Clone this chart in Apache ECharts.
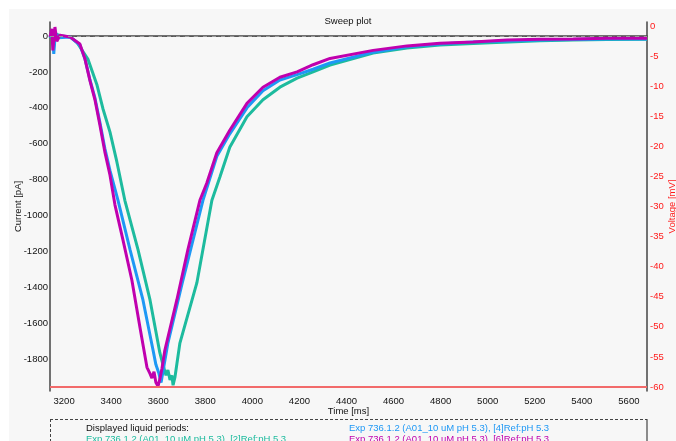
<!DOCTYPE html>
<html lang="en">

<head>
    <meta charset="UTF-8">
    <title>Sweep plot</title>
    <script src="https://cdn.jsdelivr.net/npm/echarts@6.0.0/dist/echarts.min.js"></script>
    <style>
        body { margin: 0; background: #fff; }
        #wrap { position: relative; width: 676px; height: 441px; overflow: hidden; }
        #panel { position: absolute; left: 9px; top: 9px; width: 667px; height: 432px; background: #f7f7f7; }
        #main { position: absolute; left: 0; top: 0; width: 676px; height: 441px; }
    </style>
</head>

<body>
    <div id="wrap">
        <div id="panel"></div>
        <div id="main"></div>
    </div>
    <script>
        // time range of the sweep [ms]
        var timeRange = [3140, 5677]
        // current axis range [pA] and voltage axis range [mV]
        var currentRange = [-1977, 78]
        var voltageRange = [-60, 0]

        var seriesNames = [
            'Exp 736.1.2 (A01_10 uM pH 5.3), [2]Ref:pH 5.3',
            'Exp 736.1.2 (A01_10 uM pH 5.3), [4]Ref:pH 5.3',
            'Exp 736.1.2 (A01_10 uM pH 5.3), [6]Ref:pH 5.3'
        ]
        var seriesColors = ['#1dbb9e', '#1e98f5', '#c000ae']

        // [time ms, current pA]
        var sweep2 = [
            [3140, -5], [3148, 20], [3155, -60], [3165, 10], [3190, 0], [3225, -5], [3254, -35],
            [3301, -128], [3339, -270], [3365, -405], [3395, -535], [3424, -700], [3458, -915],
            [3514, -1190], [3565, -1470], [3607, -1765], [3620, -1830], [3633, -1890], [3641, -1860],
            [3650, -1915], [3658, -1890], [3663, -1945], [3671, -1900], [3692, -1710], [3764, -1375],
            [3828, -915], [3862, -785], [3904, -620], [3977, -450], [4045, -355], [4117, -285],
            [4190, -235], [4258, -200], [4330, -162], [4513, -95], [4657, -67], [4797, -50],
            [5010, -38], [5222, -27], [5363, -22], [5507, -20], [5677, -18]
        ]
        var sweep4 = [
            [3140, -10], [3150, 30], [3156, -100], [3163, 20], [3175, -10], [3225, -5], [3267, -50],
            [3288, -125], [3310, -245], [3331, -345], [3352, -480], [3373, -625], [3395, -750],
            [3429, -915], [3480, -1190], [3535, -1470], [3578, -1750], [3590, -1830], [3603, -1880],
            [3612, -1930], [3620, -1870], [3641, -1710], [3701, -1380], [3790, -915], [3849, -670],
            [3904, -545], [3977, -400], [4045, -305], [4117, -245], [4190, -215], [4258, -185],
            [4330, -150], [4513, -90], [4657, -60], [4797, -45], [4938, -33], [5082, -28],
            [5222, -22], [5363, -20], [5507, -17], [5677, -17]
        ]
        var sweep6 = [
            [3140, -5], [3148, 40], [3152, -80], [3161, 50], [3169, -30], [3182, 5], [3225, -5],
            [3267, -45], [3288, -125], [3310, -250], [3331, -355], [3352, -495], [3373, -645],
            [3395, -775], [3416, -940], [3450, -1135], [3488, -1360], [3522, -1620], [3552, -1845],
            [3565, -1880], [3573, -1905], [3582, -1870], [3590, -1930], [3599, -1950], [3607, -1910],
            [3616, -1850], [3628, -1750], [3679, -1470], [3726, -1190], [3777, -915], [3806, -820],
            [3849, -650], [3904, -525], [3977, -375], [4045, -285], [4117, -230], [4190, -200],
            [4258, -160], [4330, -125], [4513, -80], [4657, -55], [4797, -40], [4938, -33],
            [5082, -22], [5222, -18], [5363, -17], [5507, -12], [5677, -12]
        ]
        // holding voltage
        var voltTime = [3140, 5677]
        var voltage = [-60, -60]

        var font = 'Liberation Sans, Arial, sans-serif'
        var mCharts = echarts.init(document.getElementById('main'), null, { renderer: 'canvas' })

        var sweeps = [sweep2, sweep4, sweep6]
        var series = [{
            type: 'line',
            xAxisIndex: 0,
            yAxisIndex: 0,
            data: [],
            silent: true,
            markLine: {
                silent: true,
                symbol: 'none',
                label: { show: false },
                lineStyle: { color: '#9a9a9a', type: [4, 5], width: 1 },
                data: [{ yAxis: 0 }]
            }
        }]
        sweeps.forEach(function(d, i) {
            series.push({
                name: seriesNames[i],
                type: 'line',
                xAxisIndex: 0,
                yAxisIndex: 0,
                data: d,
                showSymbol: false,
                animation: false,
                lineStyle: { color: seriesColors[i], width: 3 },
                itemStyle: { color: seriesColors[i] }
            })
        })
        series.push({
            name: 'Voltage',
            type: 'line',
            xAxisIndex: 2,
            yAxisIndex: 2,
            data: voltTime.map(function(t, i) { return [t, voltage[i]] }),
            showSymbol: false,
            animation: false,
            lineStyle: { color: '#f26a6a', width: 2 }
        })

        function every200(v) {
            return Math.round(v) % 200 === 0 ? String(Math.round(v)) : ''
        }

        // legend box under the plot
        var legendItems = [
            { type: 'line', shape: { x1: 50, y1: 419.5, x2: 647, y2: 419.5 }, style: { stroke: '#444', lineWidth: 1, lineDash: [3, 2] } },
            { type: 'line', shape: { x1: 50.5, y1: 419, x2: 50.5, y2: 441 }, style: { stroke: '#444', lineWidth: 1, lineDash: [3, 2] } },
            { type: 'line', shape: { x1: 647, y1: 419, x2: 647, y2: 441 }, style: { stroke: '#444', lineWidth: 1.2 } },
            { type: 'text', x: 86, y: 428, style: { text: 'Displayed liquid periods:', fill: '#111', font: '9.5px ' + font, verticalAlign: 'middle' } },
            { type: 'text', x: 86, y: 439, style: { text: seriesNames[0], fill: seriesColors[0], font: '9.5px ' + font, verticalAlign: 'middle' } },
            { type: 'text', x: 349, y: 428, style: { text: seriesNames[1], fill: seriesColors[1], font: '9.5px ' + font, verticalAlign: 'middle' } },
            { type: 'text', x: 349, y: 439, style: { text: seriesNames[2], fill: seriesColors[2], font: '9.5px ' + font, verticalAlign: 'middle' } }
        ]

        var option = {
            animation: false,
            textStyle: { fontFamily: font },
            title: {
                text: 'Sweep plot',
                left: 343,
                textAlign: 'center',
                top: 11,
                textStyle: { fontSize: 9.5, fontWeight: 'normal', color: '#111' }
            },
            grid: [
                { left: 50, right: 29, top: 22, bottom: 50, outerBoundsMode: 'none', containLabel: false },
                { left: 50, right: 29, top: 26, bottom: 54, outerBoundsMode: 'none', containLabel: false }
            ],
            xAxis: [{
                gridIndex: 0,
                type: 'value',
                min: timeRange[0],
                max: timeRange[1],
                minInterval: 200,
                maxInterval: 200,
                name: 'Time [ms]',
                nameLocation: 'middle',
                nameGap: 15,
                nameMoveOverlap: false,
                nameTextStyle: { fontSize: 9.5, color: '#111' },
                axisLine: { lineStyle: { color: '#444', width: 1.5 } },
                axisTick: { show: false },
                splitLine: { show: false },
                axisLabel: { fontSize: 9.5, color: '#111', margin: 5, showMinLabel: false, showMaxLabel: false, formatter: every200 }
            }, {
                gridIndex: 0,
                type: 'value',
                position: 'top',
                min: timeRange[0],
                max: timeRange[1],
                axisLine: { lineStyle: { color: '#555', width: 1, type: [3, 2] } },
                axisTick: { show: false },
                axisLabel: { show: false },
                splitLine: { show: false }
            }, {
                gridIndex: 1,
                type: 'value',
                min: timeRange[0],
                max: timeRange[1],
                show: false
            }],
            yAxis: [{
                gridIndex: 0,
                type: 'value',
                min: currentRange[0],
                max: currentRange[1],
                minInterval: 200,
                maxInterval: 200,
                name: 'Current [pA]',
                nameLocation: 'middle',
                nameRotate: 90,
                nameGap: 27,
                nameMoveOverlap: false,
                nameTextStyle: { fontSize: 9.5, color: '#111' },
                axisLine: { show: true, lineStyle: { color: '#444', width: 1.5 } },
                axisTick: { show: false },
                splitLine: { show: false },
                axisLabel: { fontSize: 9.5, color: '#111', margin: 2, showMinLabel: false, showMaxLabel: false, formatter: every200 }
            }, {
                gridIndex: 0,
                type: 'value',
                position: 'right',
                min: currentRange[0],
                max: currentRange[1],
                axisLine: { show: true, lineStyle: { color: '#444', width: 1.5 } },
                axisTick: { show: false },
                axisLabel: { show: false },
                splitLine: { show: false }
            }, {
                gridIndex: 1,
                type: 'value',
                position: 'right',
                min: voltageRange[0],
                max: voltageRange[1],
                interval: 5,
                name: 'Voltage [mV]',
                nameLocation: 'middle',
                nameRotate: 90,
                nameGap: 20,
                nameMoveOverlap: false,
                nameTextStyle: { fontSize: 9.5, color: '#ff1a1a' },
                axisLine: { show: false },
                axisTick: { show: false },
                splitLine: { show: false },
                axisLabel: { fontSize: 9.5, color: '#ff1a1a', margin: 3 }
            }],
            graphic: legendItems,
            series: series
        }
        mCharts.setOption(option)
    </script>
</body>

</html>
